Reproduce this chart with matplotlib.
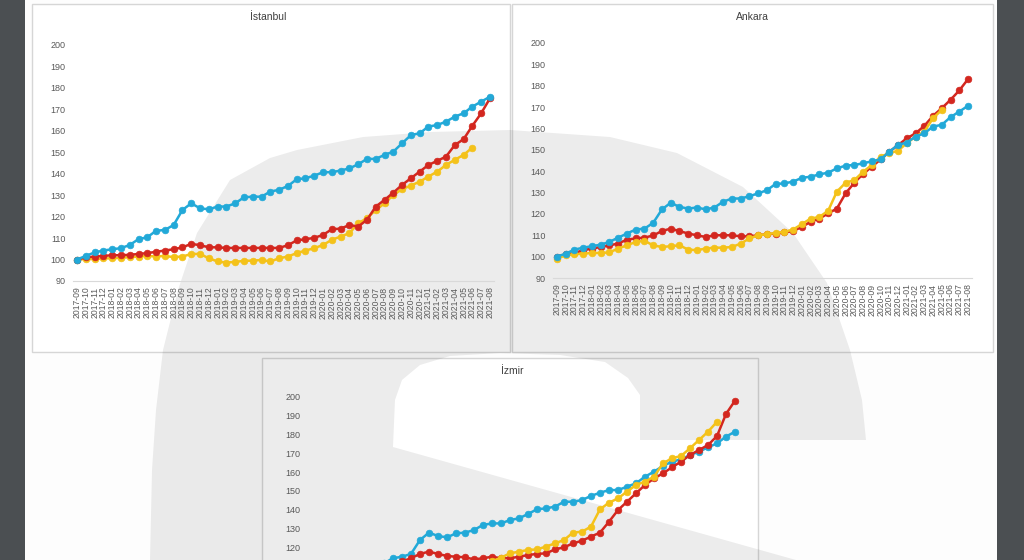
import matplotlib
matplotlib.use('Agg')
import matplotlib.pyplot as plt
from matplotlib.patches import Rectangle, Polygon
import pandas as pd

# ---------------- data ----------------
months = [p.strftime('%Y-%m') for p in pd.period_range('2017-09', '2021-08', freq='M')]
y_ticks = [90, 100, 110, 120, 130, 140, 150, 160, 170, 180, 190, 200]

istanbul_blue = [100, 101.7, 103.3, 104.2, 104.8, 105.3, 106.8, 109.5, 110.4, 113.4,
                 113.8, 116.1, 123.1, 126.2, 123.9, 123.4, 124.7, 124.7, 126.2, 129.0,
                 129.3, 129.3, 131.7, 132.5, 134.3, 137.4, 137.9, 139.1, 140.7, 140.7,
                 141.5, 142.5, 144.4, 146.9, 146.9, 148.8, 150.3, 154.2, 158.0, 158.9,
                 162.0, 162.7, 164.3, 166.6, 168.2, 171.3, 173.6, 175.9]
istanbul_red = [100, 101.0, 101.4, 101.7, 102.0, 102.0, 102.2, 102.6, 103.0, 103.6,
                104.2, 104.8, 105.7, 107.3, 106.7, 105.7, 105.7, 105.4, 105.4, 105.4,
                105.4, 105.4, 105.4, 105.4, 106.7, 108.9, 109.5, 110.1, 111.5, 114.1,
                114.4, 116.1, 115.4, 118.5, 124.7, 127.8, 131.2, 134.8, 137.9, 141.0,
                144.1, 146.0, 148.0, 153.4, 156.1, 162.4, 168.2, 175.2]
istanbul_yellow = [100, 100.2, 100.2, 100.5, 100.6, 100.8, 101.1, 101.4, 101.7, 101.4,
                   101.7, 101.1, 101.4, 102.6, 102.6, 100.6, 99.1, 98.6, 98.9, 99.4,
                   99.5, 99.8, 99.1, 100.6, 101.4, 103.0, 104.2, 105.3, 106.8, 109.2,
                   110.7, 112.3, 116.9, 119.3, 123.1, 126.2, 130.1, 132.8, 134.5, 136.3,
                   138.7, 141.0, 144.1, 146.5, 148.8, 152.2]

ankara_blue = [100, 101.4, 103.3, 104.2, 104.9, 105.6, 106.9, 108.9, 110.8, 112.7,
               113.1, 115.8, 122.1, 125.2, 123.3, 122.5, 123.0, 122.1, 123.0, 125.7,
               127.2, 127.2, 128.3, 129.6, 131.1, 134.0, 134.3, 135.1, 136.9, 137.4,
               138.5, 139.3, 141.3, 142.6, 142.9, 143.7, 144.6, 145.5, 149.1, 152.3,
               153.4, 156.2, 157.7, 160.9, 161.7, 165.3, 167.9, 170.6]
ankara_red = [100, 101.1, 101.7, 103.0, 103.8, 104.5, 105.3, 106.1, 108.0, 108.5,
              108.9, 109.9, 112.0, 113.1, 112.0, 110.8, 110.0, 109.2, 110.0, 110.0,
              110.0, 109.5, 109.5, 110.0, 110.5, 110.8, 111.3, 112.0, 113.9, 116.3,
              117.8, 120.2, 122.5, 129.6, 134.6, 138.7, 142.1, 145.5, 149.1, 152.2,
              155.4, 157.7, 161.2, 165.9, 169.5, 173.4, 177.8, 183.1]
ankara_yellow = [99.1, 100.6, 101.1, 101.4, 101.7, 101.7, 102.0, 103.8, 105.3, 106.9,
                 107.4, 105.3, 104.5, 104.9, 105.3, 103.3, 103.0, 103.8, 104.2, 104.2,
                 104.5, 106.1, 108.5, 110.0, 110.5, 111.1, 111.6, 112.7, 115.2, 117.8,
                 118.6, 121.4, 130.4, 134.6, 135.8, 139.7, 142.9, 146.8, 148.4, 149.6,
                 153.1, 156.2, 158.5, 164.8, 168.7]

izmir_blue = [100, 101.5, 103.0, 104.0, 105.0, 106.0, 107.5, 109.5, 111.5, 114.2,
              115.0, 116.5, 123.9, 127.8, 126.0, 125.3, 127.4, 127.8, 129.2, 131.9,
              132.7, 132.7, 134.5, 135.4, 137.7, 140.2, 140.7, 141.6, 144.2, 144.2,
              145.1, 147.3, 149.0, 150.4, 150.4, 152.2, 154.0, 157.5, 160.2, 163.2,
              165.5, 166.7, 169.0, 170.8, 173.1, 175.2, 178.8, 181.4]
izmir_red = [100, 101.0, 102.0, 103.0, 104.0, 105.0, 106.5, 108.0, 109.5, 111.0,
             112.5, 114.2, 116.5, 117.7, 116.5, 115.4, 115.0, 114.7, 113.6, 114.2,
             115.0, 114.2, 114.2, 115.0, 115.9, 116.5, 116.8, 118.9, 120.0, 122.1,
             123.5, 125.7, 127.8, 133.6, 139.8, 144.2, 148.7, 153.1, 156.6, 159.3,
             162.5, 165.5, 169.0, 171.7, 174.3, 179.1, 190.8, 197.9]
izmir_yellow = [100, 100.5, 101.0, 101.5, 102.0, 102.5, 103.0, 104.0, 105.0, 106.0,
                107.0, 108.0, 109.0, 110.5, 110.0, 109.5, 109.5, 110.0, 110.5, 111.0,
                112.5, 114.5, 116.8, 117.7, 118.6, 118.9, 120.4, 122.1, 123.9, 127.8,
                128.3, 131.0, 140.2, 143.7, 146.0, 149.6, 153.1, 154.9, 157.5, 164.6,
                167.3, 168.5, 172.6, 177.0, 181.4, 186.7]

panel_titles = ['İstanbul', 'Ankara', 'İzmir']

BLUE = '#22a9d8'
RED = '#d3271f'
YELLOW = '#f4c21a'

# ---------------- figure ----------------
W, H = 1024, 560
plt.rcParams['font.family'] = ['Liberation Sans', 'DejaVu Sans']
fig = plt.figure(figsize=(W / 100, H / 100), dpi=100)
fig.patch.set_facecolor('white')

bg = fig.add_axes([0, 0, 1, 1], zorder=-10)
bg.set_xlim(0, W)
bg.set_ylim(H, 0)
bg.axis('off')
bg.add_patch(Rectangle((0, 0), W, H, facecolor='#fdfdfd', edgecolor='none'))
for (x0, y0, x1, y1) in [(32, 4, 510, 352), (512, 4, 993, 352), (262, 358, 758, 580)]:
    bg.add_patch(Rectangle((x0, y0), x1 - x0, y1 - y0, facecolor='white',
                           edgecolor='#d6d6d6', lw=1.0))
outer = [(150, 560), (152, 470), (156, 410), (163, 350), (178, 290), (197, 233),
         (230, 180), (270, 158), (297, 150), (363, 137), (430, 132), (510, 130),
         (610, 137), (677, 153), (743, 187), (793, 233), (827, 283), (850, 350),
         (862, 400), (866, 440), (640, 440), (640, 395), (628, 378), (605, 362),
         (560, 355), (500, 353), (450, 356), (420, 365), (402, 380), (395, 400),
         (393, 447), (796, 560)]
bg.add_patch(Polygon(outer, closed=True, facecolor='black', alpha=0.075,
                     edgecolor='none'))
bg.add_patch(Rectangle((0, 0), 25, H, facecolor='#4b4f52', edgecolor='none'))
bg.add_patch(Rectangle((997, 0), 27, H, facecolor='#4b4f52', edgecolor='none'))


def px_axes(xl, xr, y_top, y_bot):
    return fig.add_axes([xl / W, (H - y_bot) / H, (xr - xl) / W, (y_bot - y_top) / H])


def draw(ax, series, show_x=True, ylabel_min=90):
    ax.set_facecolor('none')
    for vals, col in series:
        ax.plot(range(len(vals)), vals, color=col, lw=1.8, marker='o', ms=4.8,
                mfc=col, mec=col, mew=0.5, zorder=3)
    ax.set_xlim(-0.5, len(months) - 0.5)
    ax.set_ylim(90, 200)
    ax.set_yticks(y_ticks)
    ax.set_yticklabels([str(t) if t >= ylabel_min else '' for t in y_ticks],
                       fontsize=6.5, color='#595959')
    ax.set_xticks(range(len(months)))
    ax.set_xticklabels(months, rotation=90, fontsize=6.2, color='#595959')
    ax.tick_params(length=0, pad=5)
    ax.tick_params(axis='x', pad=4, labelbottom=show_x)
    for s in ['top', 'right', 'left']:
        ax.spines[s].set_visible(False)
    ax.spines['bottom'].set_color('#d9d9d9')
    ax.spines['bottom'].set_linewidth(0.8)


ax1 = px_axes(72.6, 494.4, 45, 281)
draw(ax1, [(istanbul_yellow, YELLOW), (istanbul_red, RED), (istanbul_blue, BLUE)])
ax2 = px_axes(552.6, 972.4, 43, 278)
draw(ax2, [(ankara_red, RED), (ankara_yellow, YELLOW), (ankara_blue, BLUE)])
ax3 = px_axes(307.5, 739.5, 396.7, 603.8)
# the lower part of this panel (labels below 120, month labels) lies below the page edge
draw(ax3, [(izmir_blue, BLUE), (izmir_red, RED), (izmir_yellow, YELLOW)],
     show_x=False, ylabel_min=120)

for name, (cx, cy) in zip(panel_titles, [(268, 17), (752, 17), (512, 371)]):
    fig.text(cx / W, 1 - cy / H, name, ha='center', va='center', fontsize=7.5,
             color='#404040')

fig.savefig('out.png', dpi=100)
